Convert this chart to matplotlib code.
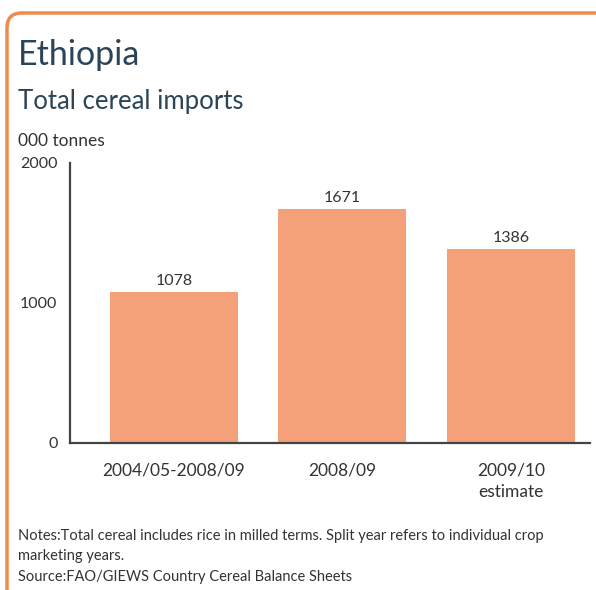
import matplotlib.pyplot as plt
from matplotlib.patches import FancyBboxPatch

# data
periods = ['2004/05-2008/09', '2008/09', '2009/10\nestimate']
imports = [1078, 1671, 1386]
yticks = [0, 1000, 2000]

BAR = '#F4A079'
BORDER = '#F08A4E'
TITLE = '#2B4457'
TEXT = '#333333'

plt.rcParams['font.family'] = ['Lato', 'DejaVu Sans']

fig = plt.figure(figsize=(5.96, 5.90), dpi=100)
fig.patch.set_facecolor('white')

# orange frame, rounded top-left corner, open at right and bottom
frame = FancyBboxPatch((7 / 596, -0.1), 1.2, 1 - 13 / 590 + 0.1,
                       boxstyle='round,pad=0,rounding_size=0.025',
                       transform=fig.transFigure, fill=False,
                       edgecolor=BORDER, linewidth=2.5, clip_on=False)
fig.patches.append(frame)

ax = fig.add_axes([70 / 596, 1 - 443 / 590, 520 / 596, 280 / 590])
x = range(len(periods))
bars = ax.bar(x, imports, width=0.76, color=BAR, zorder=2)
for xi, v in zip(x, imports):
    ax.text(xi, v + 30, str(v), ha='center', va='bottom',
            fontsize=11.5, color=TEXT)

ax.set_xlim(-0.617, 2.47)
ax.set_ylim(0, 2000)
ax.set_yticks(yticks)
ax.set_yticklabels([str(t) for t in yticks], fontsize=11.5, color=TEXT)
ax.set_xticks(list(x))
ax.set_xticklabels(periods, fontsize=12.5, color=TEXT, linespacing=1.4)
ax.tick_params(length=0, pad=9)
ax.tick_params(axis='x', pad=14)
for s in ['top', 'right']:
    ax.spines[s].set_visible(False)
for s in ['left', 'bottom']:
    ax.spines[s].set_color('#444444')
    ax.spines[s].set_linewidth(1.6)

fig.text(18 / 596, 1 - 55 / 590, 'Ethiopia', fontsize=24.5, color=TITLE,
         ha='left', va='center')
fig.text(18 / 596, 1 - 102 / 590, 'Total cereal imports', fontsize=18.5,
         color=TITLE, ha='left', va='center')
fig.text(18 / 596, 1 - 141 / 590, '000 tonnes', fontsize=12.5, color=TEXT,
         ha='left', va='center')

fig.text(18 / 596, 1 - 536 / 590,
         'Notes:Total cereal includes rice in milled terms. Split year refers to individual crop',
         fontsize=10.5, color=TEXT, ha='left', va='center')
fig.text(18 / 596, 1 - 556 / 590, 'marketing years.', fontsize=10.5,
         color=TEXT, ha='left', va='center')
fig.text(18 / 596, 1 - 577 / 590, 'Source:FAO/GIEWS Country Cereal Balance Sheets',
         fontsize=10.5, color=TEXT, ha='left', va='center')

fig.savefig('out.png', dpi=100)
